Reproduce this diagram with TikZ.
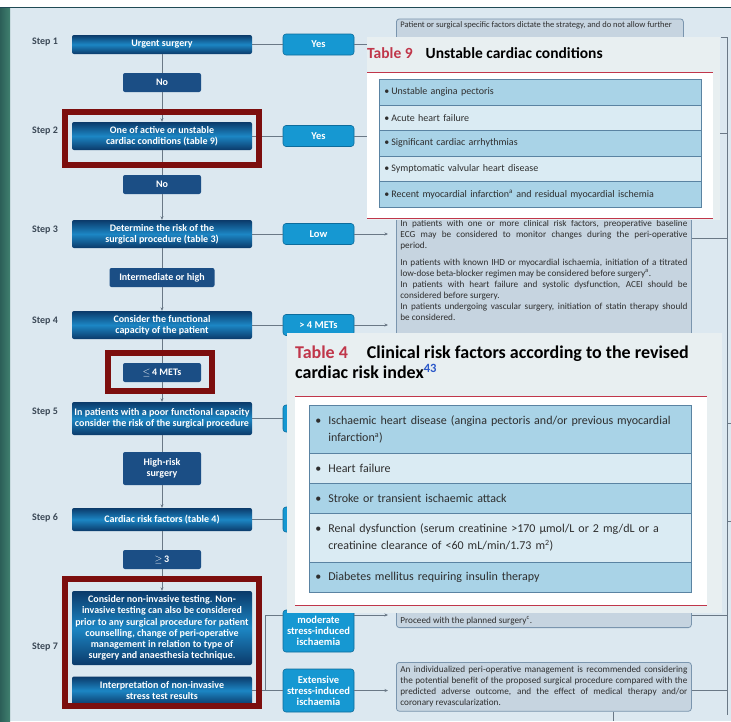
\documentclass[tikz,border=0pt]{standalone}
\usepackage{fontspec}
\setmainfont{Carlito}
\usetikzlibrary{arrows.meta, positioning, calc}
\definecolor{PageBg}{HTML}{DCE8F0}
\definecolor{StripDark}{HTML}{2C5F58}
\definecolor{StripLight}{HTML}{40806F}
\definecolor{TopLine}{HTML}{1F4A55}
\definecolor{StepDark}{HTML}{0B3A6A}
\definecolor{StepMid}{HTML}{1C86C4}
\definecolor{ChoiceBlue}{HTML}{1B4E85}
\definecolor{AnswerBlue}{HTML}{1698D2}
\definecolor{AnswerEdge}{HTML}{0D6C9C}
\definecolor{NoteBg}{HTML}{C6D4E0}
\definecolor{NoteEdge}{HTML}{7A95AE}
\definecolor{NoteText}{HTML}{2E2E2E}
\definecolor{LinkGray}{HTML}{6A7886}
\definecolor{LabelGray}{HTML}{3B4856}
\definecolor{FrameRed}{HTML}{7C0E0E}
\definecolor{TabRed}{HTML}{C0364A}
\definecolor{CardBg}{HTML}{E8EFF1}
\definecolor{RowDark}{HTML}{A9D3E7}
\definecolor{RowLight}{HTML}{DAEBF3}
\definecolor{RowEdge}{HTML}{5A83A2}
\definecolor{RefBlue}{HTML}{2B58C9}
\setlength{\parindent}{0pt}

\newcommand{\flowfont}{\bfseries\fontsize{10}{11}\selectfont}
\newcommand{\notefont}{\fontsize{9.2}{11}\selectfont}

\tikzset{
  stepbox/.style={rounded corners=2pt, top color=StepDark, bottom color=StepDark, middle color=StepMid, text=white, font=\flowfont, align=center, minimum width=180pt, inner sep=1pt},
  choice/.style={rounded corners=2pt, fill=ChoiceBlue, text=white, font=\flowfont, align=center, minimum width=78pt, minimum height=19pt, inner sep=1pt},
  answer/.style={rounded corners=3pt, fill=AnswerBlue, draw=AnswerEdge, line width=0.6pt, text=white, font=\bfseries\fontsize{10.5}{11}\selectfont, align=center, minimum width=71pt, minimum height=21pt, inner sep=1pt},
  notebox/.style={rounded corners=3pt, fill=NoteBg, draw=NoteEdge, line width=0.8pt, text=NoteText, font=\notefont, text width=287pt, align=justify, inner xsep=4pt, inner ysep=3pt},
  steplabel/.style={text=LabelGray, font=\bfseries\fontsize{10}{11}\selectfont},
  link/.style={draw=LinkGray, line width=0.8pt},
  redframe/.style={draw=FrameRed, line width=6pt},
  rowbox/.style={draw=RowEdge, line width=0.6pt, text=NoteText, align=left, anchor=north west},
}

\begin{document}
\begin{tikzpicture}[x=1pt, y=-1pt, >={Stealth[length=3.5pt, width=3pt]}]
    % Slide background
    \useasboundingbox (0,0) rectangle (731,721);
    \fill[white] (0,0) rectangle (731,721);
    \fill[PageBg] (10,8) rectangle (731,721);
    \shade[left color=StripDark, right color=StripLight] (0,8) rectangle (10,721);
    \draw[TopLine, line width=1.2pt] (0,7.5) -- (731,7.5);

    % Step labels
    \foreach \n/\y in {1/42, 2/131, 3/230, 4/321, 5/412, 6/518, 7/647}
        \node[steplabel] (label\n) at (45,\y) {Step \n};

    % Main column
    \node[stepbox, minimum height=19pt] (s1) at (162,44.5) {Urgent surgery};
    \node[choice] (no1) at (162,82.5) {No};
    \node[stepbox, minimum height=28pt] (s2) at (162,136) {One of active or unstable\\cardiac conditions (table 9)};
    \node[choice] (no2) at (162,184.5) {No};
    \node[stepbox, minimum height=28pt] (s3) at (162,234) {Determine the risk of the\\surgical procedure (table 3)};
    \node[choice, minimum width=105pt] (inter) at (162,277.5) {Intermediate or high};
    \node[stepbox, minimum height=28pt] (s4) at (162,325) {Consider the functional\\capacity of the patient};
    \node[choice] (mets) at (162,372.5) {$\leq$\,4 METs};
    \node[stepbox, minimum height=33pt] (s5) at (162,418.5) {In patients with a poor functional capacity\\consider the risk of the surgical procedure};
    \node[choice, minimum height=33pt] (highrisk) at (162,468.5) {High-risk\\surgery};
    \node[stepbox, minimum height=23pt] (s6) at (162,519.5) {Cardiac risk factors (table 4)};
    \node[choice] (three) at (162,559.5) {$\geq$\,3};
    \node[stepbox, minimum height=74pt, font=\bfseries\fontsize{10}{11.2}\selectfont] (s7a) at (162,628) {Consider non-invasive testing. Non-\\invasive testing can also be considered\\prior to any surgical procedure for patient\\counselling, change of peri-operative\\management in relation to type of\\surgery and anaesthesia technique.};
    \node[stepbox, minimum height=28pt] (s7b) at (162,690.5) {Interpretation of non-invasive\\stress test results};

    % Answers to the right
    \node[answer] (yes1) at (318.5,44.5) {Yes};
    \node[answer] (yes2) at (318.5,136) {Yes};
    \node[answer] (low) at (318.5,234) {Low};
    \node[answer] (above4) at (318.5,325) {> 4 METs};
    \node[answer, minimum height=27pt] (ans5) at (318.5,418.5) {};
    \node[answer, minimum height=25pt] (ans6) at (318.5,519.5) {};
    \node[answer, minimum height=42pt] (moderate) at (318.5,631) {moderate\\stress-induced\\ischaemia};
    \node[answer, minimum height=43pt] (extensive) at (318.5,690.5) {Extensive\\stress-induced\\ischaemia};

    % Recommendation boxes
    \node[notebox, font=\fontsize{8.5}{11}\selectfont, text width=279pt, anchor=north west] (topnote) at (396,18.5) {Patient or surgical specific factors dictate the strategy, and do not allow further\par\rule{0pt}{14pt}};
    \node[notebox, anchor=north west] (risknote) at (396,217) {In patients with one or more clinical risk factors, preoperative baseline\linebreak ECG may be considered to monitor changes during the peri-operative\linebreak period.\par\vspace{6pt}In patients with known IHD or myocardial ischaemia, initiation of a titrated\linebreak low-dose beta-blocker regimen may be considered before surgery\textsuperscript{a}.\par In patients with heart failure and systolic dysfunction, ACEI should be\linebreak considered before surgery.\par In patients undergoing vascular surgery, initiation of statin therapy should\linebreak be considered.\par\rule{0pt}{30pt}};
    \node[notebox, anchor=south west] (proceednote) at (396,628) {\rule{0pt}{24pt}Proceed with the planned surgery\textsuperscript{c}.};
    \node[notebox, anchor=north west, inner ysep=4pt] (extnote) at (396,662) {An individualized peri-operative management is recommended considering\linebreak the potential benefit of the proposed surgical procedure compared with the\linebreak predicted adverse outcome, and the effect of medical therapy and/or\linebreak coronary revascularization.};

    % Connectors down the column
    \foreach \a/\b in {s1/no1, s2/no2, s3/inter, s4/mets, s5/highrisk, s6/three}
        \draw[link] (\a) -- (\b);
    \foreach \a/\b in {no1/s2, no2/s3, inter/s4, mets/s5, highrisk/s6, three/s7a}
        \draw[link, ->] (\a) -- (\b);

    % Connectors to the answers
    \foreach \a/\b in {s1/yes1, s2/yes2, s3/low, s4/above4, s5/ans5, s6/ans6, s7b/extensive}
        \draw[link] (\a) -- (\b);
    \coordinate (fork) at (265,615);
    \draw[link] (fork |- s7b) -- (fork) -- (fork -| moderate.west);

    % Arrows to the recommendations
    \foreach \a in {yes1, yes2, low, above4, extensive}
        \draw[link, ->, shorten >=8pt] (\a) -- (\a -| risknote.west);
    \draw[link, ->, shorten >=8pt] (fork -| moderate.east) -- (fork -| proceednote.west);

    % Rail on the right
    \coordinate (railtop) at (727,37);
    \coordinate (railbot) at (727,715);
    \coordinate (exit) at (613,721);
    \draw[link] (railtop) ++(-6,0) -- (railtop) -- (railbot);
    \foreach \y in {133, 238, 615, 690}
        \draw[link] (risknote.east |- 0,\y) -- (railtop |- 0,\y);
    \foreach \y in {423, 521}
        \draw[link] (railtop |- 0,\y) -- ++(5,0);
    \draw[link] (exit |- extnote.south) -- (exit);

    % Table 9 card
    \fill[CardBg] (367,37) rectangle (720,220);
    \fill[white] (367,72) rectangle (713,218);
    \draw[TabRed, line width=0.8pt] (367,72) -- (713,72) (367,218) -- (713,218);
    \node[anchor=base west, inner sep=0pt, font=\bfseries\fontsize{15.5}{17}\selectfont] (ninehead) at (367,58) {\textcolor{TabRed}{Table 9}\hspace{13pt}Unstable cardiac conditions};
    \foreach \i/\t/\c/\txt in {1/79/RowDark/{Unstable angina pectoris},
                                2/104.6/RowLight/{Acute heart failure},
                                3/130.2/RowDark/{Significant cardiac arrhythmias},
                                4/155.8/RowLight/{Symptomatic valvular heart disease},
                                5/181.4/RowDark/{Recent myocardial infarction\textsuperscript{a} and residual myocardial ischemia}}
        \node[rowbox, fill=\c, text width=312pt, minimum height=25.6pt, inner xsep=5pt, font=\fontsize{10}{12}\selectfont] (nine\i) at (379,\t) {\makebox[7pt][l]{\textbullet}\txt};

    % Table 4 card
    \fill[CardBg] (287,333) rectangle (722,613);
    \fill[white] (295,396) rectangle (707,605);
    \draw[TabRed, line width=0.8pt] (295,396) -- (707,396) (295,605) -- (707,605);
    \node[anchor=north west, inner sep=0pt, align=left, font=\bfseries\fontsize{18}{20}\selectfont] (fourhead) at (295,346) {\textcolor{TabRed}{Table 4}\hspace{19pt}Clinical risk factors according to the revised\\cardiac risk index\textsuperscript{\textcolor{RefBlue}{43}}};
    \foreach \i/\t/\h/\c/\txt in {1/405/48/RowDark/{Ischaemic heart disease (angina pectoris and/or previous myocardial\\infarction\textsuperscript{a})},
                                   2/453/30/RowLight/{Heart failure},
                                   3/483/30/RowDark/{Stroke or transient ischaemic attack},
                                   4/513/49/RowLight/{Renal dysfunction (serum creatinine >170 µmol/L or 2 mg/dL or a\\creatinine clearance of <60 mL/min/1.73 m\textsuperscript{2})},
                                   5/562/30/RowDark/{Diabetes mellitus requiring insulin therapy}}
        \node[rowbox, fill=\c, text width=370pt, minimum height=\h pt, inner xsep=6pt, font=\fontsize{12}{17}\selectfont] (four\i) at (309,\t) {\makebox[13pt][l]{\textbullet}\parbox[t]{355pt}{\txt}};

    % Highlight frames
    \draw[redframe] (65,112) rectangle (259,165);
    \draw[redframe] (108,353) rectangle (212,391);
    \draw[redframe] (65,579) rectangle (259,706);
\end{tikzpicture}
\end{document}
